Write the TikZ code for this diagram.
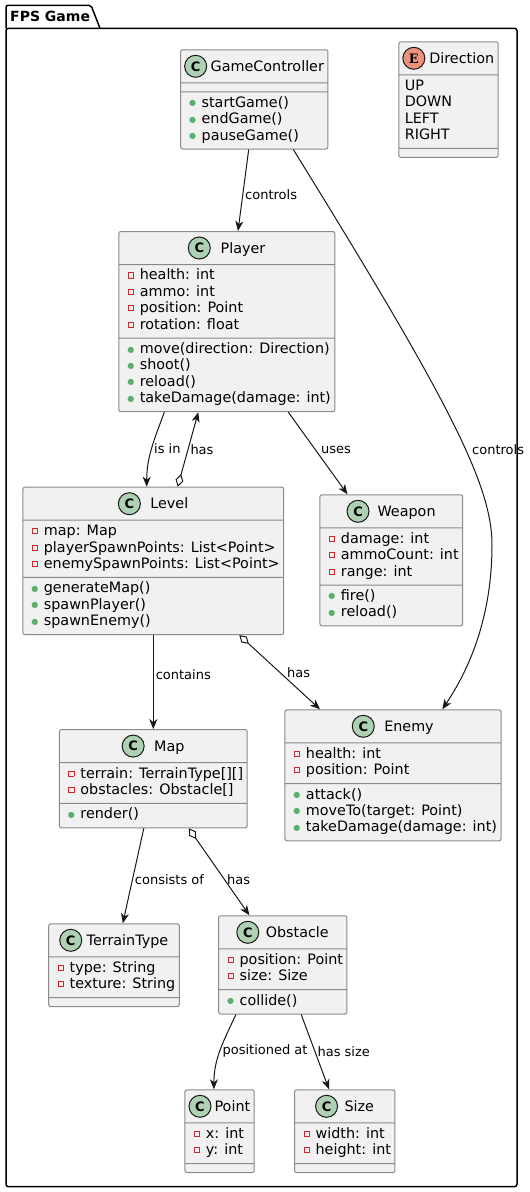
\documentclass[tikz,border=0pt]{standalone}
\usepackage{fontspec}
\setmainfont{DejaVu Sans}
\newfontfamily\enumfont{DejaVu Serif}
\usetikzlibrary{positioning, arrows.meta, shapes.multipart}

\definecolor{boxfill}{HTML}{F1F1F1}
\definecolor{boxline}{HTML}{8A8A8A}
\definecolor{edgecol}{HTML}{181818}
\definecolor{classicon}{HTML}{ADD1B2}
\definecolor{enumicon}{HTML}{EB937F}
\definecolor{privred}{HTML}{C82930}
\definecolor{pubgreen}{HTML}{5BAE6E}

% member markers
\newcommand{\priv}{\strut\hspace{5pt}\raisebox{4.5pt}{\textcolor{privred}{\fboxsep=2.2pt\fboxrule=0.8pt\fbox{}}}\hspace{6pt}}
\newcommand{\pub}{\strut\hspace{5pt}\makebox[6pt]{\raisebox{1.5pt}{\textcolor{pubgreen}{\fontsize{8}{8}\selectfont ●}}}\hspace{6pt}}
\newcommand{\lit}{\strut\hspace{2pt}}
\newcommand{\nomembers}{\hspace*{0.1pt}\rule{0pt}{1pt}}
\newcommand{\clsname}[2]{\hspace*{#1}\rule[-7.5pt]{0pt}{25pt}#2}

\begin{document}
\begin{tikzpicture}[x=1pt, y=1pt,
    cls/.style={rectangle split, rectangle split parts=3, rectangle split part align={center,left,left},
        draw=boxline, line width=1pt, fill=boxfill, rounded corners=2pt, inner xsep=4pt, inner ysep=3.5pt,
        align=left, font=\fontsize{14.35}{16.4}\selectfont},
    cicon/.style={circle, draw=edgecol, line width=1pt, fill=classicon, minimum size=22pt, inner sep=0pt,
        font=\fontsize{13}{13}\selectfont\bfseries},
    eicon/.style={cicon, fill=enumicon, font=\enumfont\fontsize{13}{13}\selectfont\bfseries},
    link/.style={draw=edgecol, line width=1pt, -{Stealth[length=10pt, width=8pt, inset=3pt]}},
    agg/.style={link, {Diamond[open, length=13pt, width=8pt]}-{Stealth[length=10pt, width=8pt, inset=3pt]}},
    lbl/.style={anchor=west, inner sep=2pt, font=\fontsize{13}{15}\selectfont},
    pkg/.style={draw=black, line width=1.5pt}]

    \useasboundingbox (0,0) rectangle (530,-1192);

    % package frame
    \draw[pkg, rounded corners=2.5pt] (6,-28.3) rectangle (517,-1186.7);
    \draw[pkg, rounded corners=2pt] (6,-28.3) |- (91,-5.3) -- (100,-28.3);
    \node[anchor=west, inner sep=0pt, font=\fontsize{14}{16}\selectfont\bfseries] (pkgname) at (10,-16.7) {FPS Game};

    % classes
    \node[cls, anchor=north] (gc) at (254.3,-49.3) {\clsname{26pt}{GameController}
        \nodepart{two}\nomembers
        \nodepart{three}\pub startGame()\\ \pub endGame()\\ \pub pauseGame()};
    \node[cls, anchor=north] (dir) at (448.5,-41.3) {\clsname{26.5pt}{Direction}
        \nodepart{two}\lit UP\\ \lit DOWN\\ \lit LEFT\\ \lit RIGHT
        \nodepart{three}\nomembers};
    \node[cls, anchor=north] (pl) at (226.8,-231) {\clsname{32.4pt}{Player}
        \nodepart{two}\priv health: int\\ \priv ammo: int\\ \priv position: Point\\ \priv rotation: float
        \nodepart{three}\pub move(direction: Direction)\\ \pub shoot()\\ \pub reload()\\ \pub takeDamage(damage: int)};
    \node[cls, anchor=north] (lv) at (153.3,-486.7) {\clsname{32pt}{Level}
        \nodepart{two}\priv map: Map\\ \priv playerSpawnPoints: List<Point>\\ \priv enemySpawnPoints: List<Point>
        \nodepart{three}\pub generateMap()\\ \pub spawnPlayer()\\ \pub spawnEnemy()};
    \node[cls, anchor=north] (wp) at (391.3,-494.3) {\clsname{30.6pt}{Weapon}
        \nodepart{two}\priv damage: int\\ \priv ammoCount: int\\ \priv range: int
        \nodepart{three}\pub fire()\\ \pub reload()};
    \node[cls, anchor=north] (en) at (393,-709.3) {\clsname{32pt}{Enemy}
        \nodepart{two}\priv health: int\\ \priv position: Point
        \nodepart{three}\pub attack()\\ \pub moveTo(target: Point)\\ \pub takeDamage(damage: int)};
    \node[cls, below=94pt of lv] (mp) {\clsname{32pt}{Map}
        \nodepart{two}\priv terrain: TerrainType[][]\\ \priv obstacles: Obstacle[]
        \nodepart{three}\pub render()};
    \node[cls, anchor=north] (tt) at (114,-923.3) {\clsname{27pt}{TerrainType}
        \nodepart{two}\priv type: String\\ \priv texture: String
        \nodepart{three}\nomembers};
    \node[cls, anchor=north] (ob) at (282.8,-915.3) {\clsname{29pt}{Obstacle}
        \nodepart{two}\priv position: Point\\ \priv size: Size
        \nodepart{three}\pub collide()};
    \node[cls, anchor=north] (pt) at (219.6,-1089.3) {\clsname{25.6pt}{Point}
        \nodepart{two}\priv x: int\\ \priv y: int
        \nodepart{three}\nomembers};
    \node[cls, anchor=north] (sz) at (344.8,-1089.3) {\clsname{29pt}{Size}
        \nodepart{two}\priv width: int\\ \priv height: int
        \nodepart{three}\nomembers};

    % header icons
    \foreach \c in {gc, pl, lv, wp, en, mp, tt, ob, pt, sz}
        \node[cicon] (\c-icon) at ([xshift=11pt, yshift=5pt]\c.text) {C};
    \node[eicon] (dir-icon) at ([xshift=11pt, yshift=5pt]dir.text) {E};

    % relations
    \draw[link] ([xshift=-5.6pt]gc.south) -- node[lbl, pos=0.56] (lblGcPl) {controls} ([xshift=11.2pt]pl.north);
    \draw[link] ([xshift=39pt]gc.south) .. controls (449.6,-402) and (492,-485) .. (492,-545)
        node[lbl, pos=0.59, xshift=4pt] (lblGcEn) {controls}
        .. controls (492,-605) and (476.2,-658.8) .. ([xshift=49.3pt]en.north);
    \draw[link] ([xshift=-62.5pt]pl.south) to[out=-110, in=90] node[lbl, pos=0.5] (lblIsIn) {is in} ([xshift=-6.6pt]lv.north);
    \draw[agg] ([xshift=24.4pt]lv.north) -- node[lbl, pos=0.5] (lblLvPl) {has} ([xshift=-28.5pt]pl.south);
    \draw[link] ([xshift=61.5pt]pl.south) -- node[lbl, pos=0.46, xshift=3pt] (lblUses) {uses} ([xshift=-43.8pt]wp.north);
    \draw[link] (lv) -- node[lbl, pos=0.42] (lblContains) {contains} (mp);
    \draw[agg] ([xshift=86pt]lv.south) -- node[lbl, pos=0.5, xshift=5pt] (lblLvEn) {has} ([xshift=-73pt]en.north);
    \draw[link] ([xshift=-9.5pt]mp.south) -- node[lbl, pos=0.54] (lblConsists) {consists of} ([xshift=8.8pt]tt.north);
    \draw[agg] ([xshift=35.5pt]mp.south) -- node[lbl, pos=0.59] (lblMpOb) {has} ([xshift=-33.4pt]ob.north);
    \draw[link] ([xshift=-46.9pt]ob.south) to[out=-115, in=90] node[lbl, pos=0.5] (lblPos) {positioned at} ([xshift=-5.7pt]pt.north);
    \draw[link] ([xshift=18.4pt]ob.south) -- node[lbl, pos=0.5] (lblSize) {has size} ([xshift=-15.8pt]sz.north);
\end{tikzpicture}
\end{document}
